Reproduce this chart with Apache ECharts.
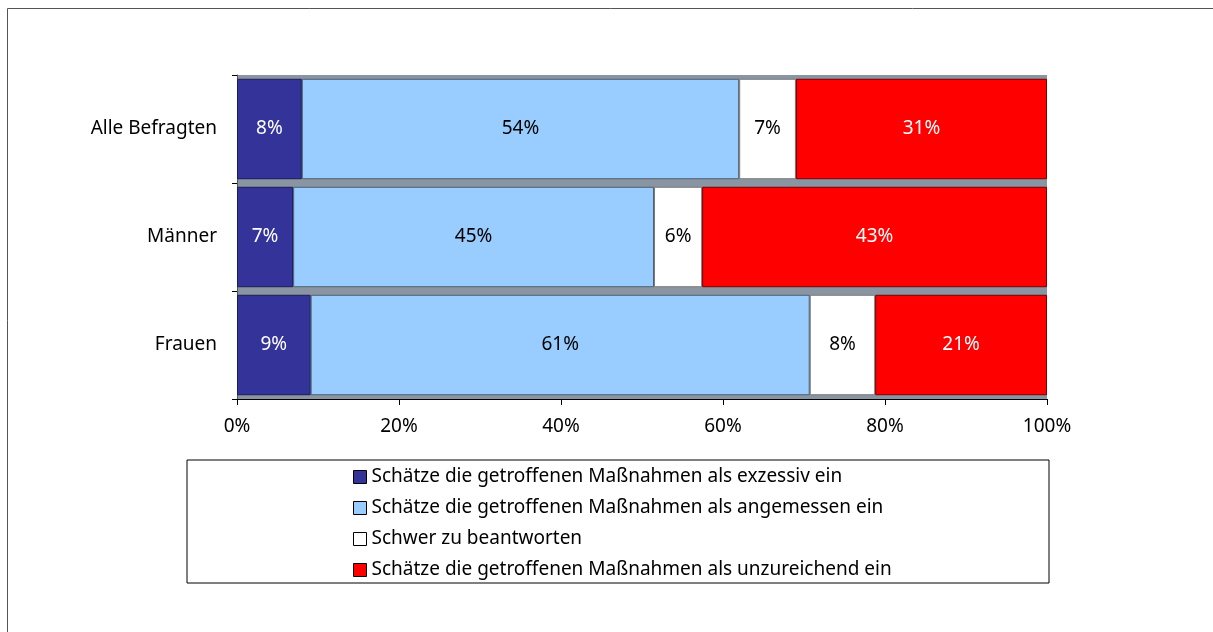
<!DOCTYPE html>
<html>
<head>
<meta charset="utf-8">
<script src="https://cdn.jsdelivr.net/npm/echarts@6/dist/echarts.min.js"></script>
<style>
html,body{margin:0;padding:0;background:#fff;}
#c{width:1213px;height:632px;}
</style>
</head>
<body>
<div id="c"></div>
<script>
var categories = ['Alle Befragten', 'Männer', 'Frauen'];
var seriesNames = [
  'Schätze die getroffenen Maßnahmen als exzessiv ein',
  'Schätze die getroffenen Maßnahmen als angemessen ein',
  'Schwer zu beantworten',
  'Schätze die getroffenen Maßnahmen als unzureichend ein'
];
var excessive = [8, 7, 9];
var adequate = [54, 45, 61];
var hardToSay = [7, 6, 8];
var insufficient = [31, 43, 21];
var xTicks = ['0%', '20%', '40%', '60%', '80%', '100%'];

var FONT = '"Noto Sans", sans-serif';
var raw = [excessive, adequate, hardToSay, insufficient];
var colors = ['#333399', '#99ccff', '#ffffff', '#ff0000'];
var borders = ['#1c1c5a', '#4d6070', '#7a7a7a', '#7a0000'];
var labelColors = ['#ffffff', '#000000', '#000000', '#ffffff'];

// 100% stacked: each bar's share of its row total (as Excel does)
var totals = categories.map(function (c, i) {
  return raw.reduce(function (s, arr) { return s + arr[i]; }, 0);
});

var series = raw.map(function (arr, k) {
  return {
    name: seriesNames[k],
    type: 'bar',
    stack: 'all',
    barCategoryGap: '7%',
    data: arr.map(function (v, i) { return { value: v / totals[i] * 100, raw: v }; }),
    itemStyle: { color: colors[k], borderColor: borders[k], borderWidth: 1 },
    label: {
      show: true,
      position: 'inside',
      fontFamily: FONT,
      fontSize: 19,
      color: labelColors[k],
      formatter: function (p) { return p.data.raw + '%'; }
    },
    emphasis: { disabled: true }
  };
});

var chart = echarts.init(document.getElementById('c'));
chart.setOption({
  animation: false,
  textStyle: { fontFamily: FONT },
  grid: {
    left: 237, right: 166, top: 75, bottom: 233,
    show: true, backgroundColor: '#8a95a3', borderWidth: 0
  },
  xAxis: {
    type: 'value',
    min: 0, max: 100, interval: 20,
    axisLine: { show: true, lineStyle: { color: '#000', width: 1 } },
    axisTick: { show: true, length: 6, lineStyle: { color: '#000' } },
    splitLine: { show: false },
    axisLabel: {
      fontFamily: FONT, fontSize: 19, color: '#000', margin: 18,
      formatter: function (v) { return xTicks[Math.round(v / 20)]; }
    }
  },
  yAxis: {
    type: 'category',
    data: categories,
    inverse: true,
    axisLine: { show: true, lineStyle: { color: '#555', width: 1 } },
    axisTick: { show: true, length: 5, lineStyle: { color: '#000' } },
    axisLabel: { fontFamily: FONT, fontSize: 19, color: '#000', margin: 20 }
  },
  legend: {
    orient: 'vertical',
    left: 353,
    top: 467,
    padding: 0,
    icon: 'rect',
    itemWidth: 13,
    itemHeight: 13,
    itemGap: 11,
    itemTextGap: 3,
    selectedMode: false,
    itemStyle: { borderColor: '#000', borderWidth: 1 },
    textStyle: { fontFamily: FONT, fontSize: 19, color: '#000', lineHeight: 20 },
    data: seriesNames
  },
  graphic: [
    {
      type: 'rect', silent: true, z: -1,
      shape: { x: 187, y: 460, width: 862, height: 123 },
      style: { fill: 'none', stroke: '#000', lineWidth: 1 }
    },
    {
      type: 'rect', silent: true, z: -1,
      shape: { x: 7.5, y: 8.5, width: 1220, height: 640 },
      style: { fill: 'none', stroke: '#555', lineWidth: 1 }
    }
  ],
  series: series
});
</script>
</body>
</html>
